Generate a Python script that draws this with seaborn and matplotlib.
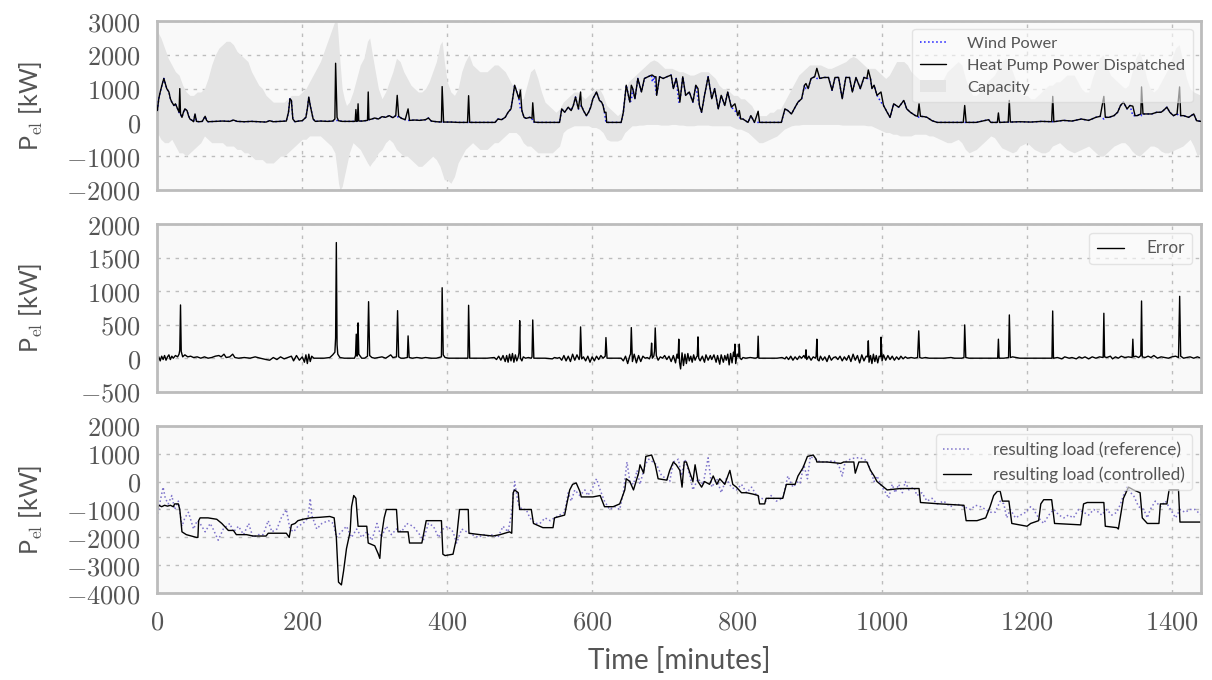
import matplotlib
matplotlib.use("Agg")
import matplotlib.pyplot as plt
import seaborn as sns
import pandas as pd
from matplotlib.ticker import FuncFormatter

# ---------------- data ----------------
t_top = [0, 2, 4, 7, 9, 11, 13, 16, 18, 20,
         23, 25, 27, 30, 31, 32, 34, 36, 38, 41,
         43, 45, 48, 50, 52, 54, 58, 62, 66, 68,
         70, 80, 90, 100, 105, 110, 120, 130, 140, 150,
         155, 160, 170, 178, 181, 183, 185, 187, 190, 195,
         200, 205, 207, 209, 211, 213, 215, 218, 225, 235,
         242, 245, 246, 248, 250, 255, 265, 273, 274, 275,
         276, 277, 278, 283, 290, 291, 292, 296, 300, 305,
         310, 315, 320, 325, 329, 331, 333, 337, 342, 346,
         348, 355, 362, 370, 374, 378, 385, 392, 393, 395,
         405, 415, 428, 429.5, 431, 440, 455, 466, 470, 475,
         480, 484, 488, 491, 493, 496, 499, 501, 503, 506,
         509, 514, 517, 518, 520, 525, 540, 555, 558, 562,
         567, 571, 574, 577, 581, 584, 585, 588, 592, 595,
         598, 601, 606, 610, 613, 615, 617, 619, 620, 630,
         640, 643, 647, 650, 652, 654, 656, 659, 663, 668,
         672, 677, 682, 683, 686, 688, 689, 693, 698, 703,
         709, 712, 716, 719.5, 721, 725, 729, 734, 739, 743,
         746, 748, 751, 755, 760, 765, 769, 774, 778, 783,
         787, 792, 797, 801, 803, 805, 808, 815, 819, 824,
         829, 831, 845, 861, 866, 870, 875, 880, 884, 889,
         893, 895, 898, 902, 907, 910, 914, 920, 926, 931,
         935, 940, 945, 950, 955, 959, 964, 970, 975, 979,
         981, 984, 986, 989, 993, 998.5, 1002, 1007, 1011, 1016,
         1023, 1030, 1034, 1039, 1046, 1049, 1051, 1053, 1058, 1062,
         1069, 1076, 1090, 1112, 1114, 1116, 1130, 1147, 1150, 1159,
         1160.5, 1162, 1174, 1175.5, 1177, 1190, 1205, 1220, 1234, 1235.5,
         1237, 1250, 1262, 1275, 1285, 1295, 1301, 1306, 1308, 1313,
         1320, 1325, 1329, 1333, 1338, 1342, 1346, 1349, 1352, 1357,
         1358, 1360, 1366, 1372, 1379, 1385, 1388, 1393, 1397, 1402,
         1407, 1410.5, 1412, 1416, 1423, 1430, 1434, 1440]

hp_kw = [350, 700, 900, 1150, 1300, 1150, 1000, 900, 700, 600,
         500, 550, 450, 300, 1000, 250, 150, 300, 400, 350,
         200, 100, 60, 20, 250, 30, 20, 30, 180, 60,
         20, 30, 40, 30, 70, 30, 20, 30, 20, 10,
         50, 20, 30, 40, 300, 700, 650, 100, 20, 40,
         50, 150, 400, 750, 500, 300, 100, 30, 40, 30,
         40, 100, 1750, 150, 50, 30, 30, 30, 380, 30,
         40, 550, 40, 40, 60, 900, 80, 100, 130, 100,
         170, 150, 200, 140, 200, 800, 180, 120, 80, 400,
         60, 70, 60, 80, 130, 40, 20, 10, 1060, 10,
         10, 0, 0, 790, 0, 0, 0, 0, 100, 80,
         150, 300, 400, 800, 1100, 900, 700, 950, 350, 150,
         120, 150, 120, 580, 10, 0, 0, 0, 400, 300,
         450, 350, 500, 750, 400, 900, 500, 350, 200, 300,
         450, 700, 900, 650, 600, 500, 300, 300, 0, 0,
         0, 300, 1100, 800, 600, 1100, 1000, 700, 1300, 900,
         1300, 1350, 1400, 1400, 1350, 1350, 800, 1350, 1300, 1350,
         1400, 1000, 1300, 900, 600, 1350, 800, 900, 600, 1100,
         1000, 500, 300, 800, 1350, 700, 1000, 400, 800, 500,
         900, 450, 550, 200, 350, 100, 100, 0, 200, 0,
         330, 0, 0, 0, 400, 350, 250, 450, 600, 700,
         1100, 1150, 1000, 1300, 1350, 1600, 1300, 1330, 1330, 950,
         1330, 1330, 700, 1330, 1330, 900, 1330, 1000, 1330, 1300,
         1550, 1300, 1000, 1100, 800, 900, 500, 300, 150, 550,
         450, 650, 400, 300, 200, 180, 550, 180, 170, 150,
         50, 0, 0, 0, 500, 0, 0, 80, 0, 0,
         280, 0, 10, 650, 10, 20, 10, 30, 20, 770,
         20, 60, 40, 100, 60, 150, 180, 770, 150, 150,
         200, 300, 500, 600, 400, 500, 480, 200, 200, 250,
         1050, 250, 250, 250, 300, 300, 350, 450, 300, 200,
         250, 1050, 200, 200, 150, 250, 50, 30]

wind_kw = [350, 700, 900, 1150, 1300, 1150, 1000, 900, 700, 600,
           500, 550, 450, 300, 250, 250, 150, 300, 400, 350,
           200, 100, 60, 20, 250, 30, 20, 30, 180, 60,
           20, 30, 40, 30, 70, 30, 20, 30, 20, 10,
           50, 20, 30, 40, 300, 700, 650, 100, 20, 40,
           50, 150, 400, 750, 500, 300, 100, 30, 40, 30,
           40, 60, 50, 60, 50, 30, 30, 30, 30, 30,
           40, 40, 40, 40, 60, 70, 80, 100, 130, 100,
           170, 150, 200, 140, 200, 150, 180, 120, 80, 60,
           60, 70, 60, 80, 130, 40, 20, 10, 10, 10,
           10, 0, 0, 0, 0, 0, 0, 0, 100, 80,
           150, 300, 400, 800, 1100, 900, 700, 400, 350, 150,
           120, 150, 120, 10, 10, 0, 0, 0, 400, 300,
           450, 350, 500, 750, 400, 430, 500, 350, 200, 300,
           450, 700, 900, 650, 600, 500, 300, 0, 0, 0,
           0, 300, 1100, 800, 600, 650, 1000, 700, 1300, 900,
           1300, 1350, 1400, 1200, 1350, 900, 800, 1350, 1300, 1350,
           1400, 1000, 1300, 600, 600, 1350, 800, 900, 600, 1100,
           700, 500, 300, 800, 1350, 700, 1000, 400, 800, 500,
           900, 450, 350, 200, 150, 100, 100, 0, 200, 0,
           0, 0, 0, 0, 400, 350, 250, 450, 600, 700,
           1100, 1000, 1000, 1300, 1350, 1300, 1300, 1330, 1330, 950,
           1330, 1330, 700, 1330, 1330, 900, 1330, 1000, 1330, 1300,
           1300, 1300, 1000, 1100, 800, 600, 500, 300, 150, 550,
           450, 650, 400, 300, 200, 180, 150, 180, 170, 150,
           50, 0, 0, 0, 0, 0, 0, 80, 0, 0,
           0, 0, 10, 10, 10, 20, 10, 30, 20, 20,
           20, 60, 40, 100, 60, 150, 180, 100, 150, 150,
           200, 300, 500, 600, 400, 500, 200, 200, 200, 250,
           200, 250, 250, 250, 300, 300, 350, 450, 300, 200,
           250, 180, 200, 200, 150, 250, 50, 30]

t_band = ([*range(0, 250, 5)] + [248, 250, 252, 255, 258, 261, 265, 270, 275, 280, 285, 290, 293, 296]
          + [*range(300, 395, 5)] + [393, 396] + [*range(400, 1445, 5)])
t_band = sorted(t_band)

cap_upper = [2700, 2500, 2200, 1900, 1700, 1500, 1400, 1100, 900, 800,
             800, 900, 900, 1000, 1300, 1700, 2000, 2200, 2300, 2400,
             2400, 2300, 2100, 2000, 1900, 1800, 1500, 1300, 1100, 1000,
             800, 700, 600, 600, 600, 600, 700, 800, 800, 800,
             900, 1000, 1200, 1400, 1600, 1800, 2100, 2400, 2700, 3000,
             3000, 2400, 1800, 1000, 700, 500, 600, 900, 1300, 1700, 1900, 2400, 2500, 2100,
             1600, 1000, 700, 900, 1200, 1500, 1900, 1800, 1500, 1300,
             1100, 1000, 900, 900, 1000, 1200, 1500, 1800, 2300,
             2400, 1800,
             1200, 900, 800, 1000, 1500, 1800, 2000, 1700, 1600, 1500,
             1500, 1500, 1600, 1700, 1700, 1600, 1500, 1300, 1100, 1000,
             700, 700, 1100, 1500, 1600, 1300, 900, 600, 500, 400,
             300, 400, 600, 700, 800, 900, 900, 800, 700, 800,
             900, 1000, 1000, 800, 500, 400, 300, 200, 300, 800,
             1200, 1300, 1400, 1500, 1600, 1700, 1800, 1850, 1800, 1700,
             1600, 1600, 1600, 1550, 1500, 1500, 1450, 1400, 1400, 1450,
             1500, 1500, 1500, 1400, 1300, 1100, 1000, 1000, 900, 800,
             800, 700, 700, 600, 500, 300, 200, 200, 200, 300,
             300, 400, 400, 600, 800, 1000, 1200, 1400, 1500, 1600,
             1700, 1700, 1700, 1700, 1650, 1600, 1600, 1650, 1700, 1750,
             1800, 1900, 1950, 1900, 1800, 1700, 1600, 1600, 1600, 1500,
             1400, 1300, 1400, 1600, 1800, 1800, 1800, 1700, 1500, 1400,
             1300, 1200, 1100, 1000, 1000, 1000, 1100, 1300, 1500, 1600,
             1700, 1800, 1700, 1300, 1000, 800, 800, 900, 1100, 1200,
             1300, 1400, 1600, 1800, 1900, 1800, 1500, 1200, 900, 800,
             800, 700, 700, 800, 900, 1000, 1100, 1100, 1200, 1200,
             1300, 1400, 1400, 1400, 1200, 1000, 900, 900, 1300, 1600,
             1900, 2000, 1700, 1400, 1300, 1200, 1100, 1000, 1100, 1500,
             1900, 2100, 1800, 1300, 1000, 900, 1000, 1200, 1400, 1600,
             1900, 2200, 2300, 1800, 1300, 1000, 900, 850, 800]

cap_lower = [-300, -500, -600, -600, -500, -700, -900, -900, -1000, -900,
             -800, -700, -600, -400, -500, -600, -600, -600, -600, -700,
             -700, -700, -800, -800, -900, -900, -1000, -1100, -1100, -1100,
             -1200, -1200, -1200, -1100, -1000, -1000, -900, -800, -700, -600,
             -500, -500, -400, -400, -400, -400, -500, -600, -700, -900,
             -1400, -1800, -2000, -1900, -1600, -1300, -900, -600, -700, -800, -1000, -1200, -1300, -1200,
             -1100, -900, -800, -600, -500, -600, -800, -900, -1000, -1000,
             -1100, -1200, -1300, -1300, -1200, -1100, -1000, -1100, -1300,
             -1500, -1700,
             -1700, -1800, -1600, -1200, -1000, -800, -700, -600, -700, -800,
             -800, -800, -700, -600, -600, -500, -400, -300, -300, -300,
             -400, -600, -700, -700, -800, -900, -900, -900, -900, -900,
             -800, -700, -300, -200, -150, -100, -100, -100, -100, -100,
             -150, -150, -200, -300, -500, -550, -550, -550, -500, -300,
             -200, -100, -100, -80, -80, -60, -60, -60, -60, -80,
             -80, -80, -60, -60, -80, -80, -100, -100, -100, -80,
             -80, -80, -80, -100, -100, -100, -100, -100, -100, -150,
             -200, -200, -250, -300, -400, -500, -600, -600, -550, -500,
             -450, -400, -300, -200, -150, -100, -80, -80, -60, -60,
             -60, -60, -60, -60, -60, -60, -60, -60, -60, -80,
             -80, -80, -80, -80, -80, -80, -100, -100, -150, -200,
             -250, -300, -300, -350, -350, -400, -400, -400, -400, -350,
             -350, -350, -350, -400, -400, -450, -500, -550, -600, -600,
             -550, -500, -600, -800, -900, -850, -800, -700, -600, -500,
             -400, -450, -600, -750, -800, -850, -900, -850, -700, -650,
             -600, -700, -800, -850, -900, -900, -850, -700, -650, -600,
             -700, -800, -850, -900, -850, -800, -750, -700, -800, -900,
             -1000, -1000, -900, -800, -700, -650, -600, -600, -700, -850,
             -950, -1000, -900, -800, -700, -700, -750, -850, -900, -900,
             -850, -800, -750, -700, -600, -500, -700, -1000, -900]

t_err = [0, 2, 4, 6, 8, 10, 12, 14, 16, 18,
         20, 22, 25, 28, 30, 31, 32, 33, 35, 38,
         42, 46, 50, 55, 60, 65, 70, 75, 80, 85,
         88, 92, 95, 100, 104, 107, 112, 120, 128, 135,
         142, 150, 155, 160, 165, 170, 175, 180, 185, 188,
         192, 196, 200, 203, 205, 207, 209, 211, 213, 216,
         222, 230, 238, 242, 245, 246, 247, 248, 249, 252,
         258, 265, 272, 273.5, 274.5, 275.5, 276.2, 277, 278, 282,
         286, 290, 291.5, 293, 296, 300, 305, 310, 315, 318,
         322, 325, 330, 331.5, 333, 336, 340, 345, 346, 347.5,
         352, 358, 365, 370, 378, 385, 392, 393, 394.5, 397,
         402, 410, 420, 428.5, 429.5, 431, 440, 455, 465, 468,
         471, 474, 477, 480, 482, 484, 486, 488, 490, 492,
         494, 496, 498, 499, 500, 501, 503, 505, 508, 512,
         516, 517, 518, 519.5, 525, 535, 545, 548, 552, 555,
         558, 561, 564, 567, 570, 573, 576, 579, 582, 583,
         584, 585.5, 588, 591, 594, 597, 600, 603, 606, 609,
         612, 615, 618, 619, 620.5, 625, 635, 640, 643, 646,
         649, 652, 653, 654, 655.5, 658, 661, 664, 667, 670,
         673, 676, 679, 681, 682, 683, 685, 686, 687, 688.5,
         691, 694, 697, 700, 703, 706, 709, 712, 715, 717,
         718.5, 719.5, 720.5, 722, 724, 726, 728, 730, 732, 734,
         736, 738, 740, 742, 744, 745, 746, 747, 749, 752,
         755, 757, 760, 763, 765, 768, 771, 773, 776, 778,
         781, 783, 785, 787, 789, 791, 793, 795, 796, 797,
         798, 800, 802, 803, 804, 806, 808, 812, 818, 825,
         828, 829, 830, 835, 845, 855, 862, 866, 868, 871,
         874, 877, 880, 883, 886, 889, 892, 894, 895, 896,
         899, 902, 905, 908, 909, 910, 911, 913, 915, 918,
         921, 924, 927, 930, 933, 936, 939, 942, 945, 948,
         951, 954, 957, 960, 963, 966, 969, 972, 975, 978,
         980, 981, 982, 984, 986, 988, 990, 992, 994, 996,
         998, 998.6, 1000, 1002, 1005, 1008, 1011, 1014, 1017, 1020,
         1023, 1026, 1029, 1032, 1035, 1040, 1045, 1049, 1050.6, 1052,
         1055, 1060, 1065, 1075, 1085, 1095, 1100, 1110, 1113, 1114,
         1115.5, 1120, 1130, 1140, 1150, 1159.5, 1160.5, 1161.5, 1168, 1174.5,
         1175.6, 1177, 1180, 1185, 1190, 1200, 1210, 1220, 1230, 1234.4,
         1235.4, 1236.5, 1242, 1248, 1252, 1258, 1262, 1268, 1272, 1276,
         1280, 1285, 1290, 1295, 1300, 1305, 1306, 1307, 1310, 1315,
         1318, 1322, 1326, 1330, 1335, 1340, 1345, 1346, 1347, 1350,
         1354, 1357, 1358, 1359, 1363, 1367, 1371, 1375, 1380, 1385,
         1390, 1395, 1400, 1405, 1409, 1410.6, 1412, 1416, 1420, 1425,
         1430, 1435, 1440]

err_kw = [-30, 20, -40, 30, -20, 40, -30, 20, 50, -20,
          30, 0, 40, 20, 60, 120, 795, 100, 20, 50,
          20, 30, 10, 20, 0, 20, 0, 10, 30, 40,
          20, 60, 10, 20, 60, 10, 0, 10, 0, 20,
          0, -20, -30, 10, -20, 20, -10, 10, 30, -40,
          40, -30, 20, -60, 50, -80, 60, -50, 30, 0,
          0, 0, 10, 50, 90, 300, 1727, 200, 60, 10,
          0, 0, 0, 40, 359, 30, 50, 527, 60, 0,
          0, 30, 844, 40, 10, 0, 10, 20, 0, 20,
          50, 10, 20, 710, 20, 0, 0, 10, 333, 10,
          0, 10, 0, 10, 0, 0, 20, 1052, 50, 10,
          0, 0, 0, 0, 790, 0, 0, 0, 10, -20,
          30, -30, 40, -50, 40, -60, 60, -40, 70, -60,
          50, -40, 20, 80, 560, 0, -40, 20, 0, 10,
          0, 20, 571, 0, 0, 0, -10, 10, 0, 10,
          -30, 40, -40, 30, -50, 60, -30, 50, -20, 30,
          467, -10, 20, -40, 30, -60, 20, -40, 30, -20,
          40, 0, 30, 308, 0, 0, 0, 0, -40, 30,
          -80, 40, 60, 457, -50, 60, -70, 40, -50, 30,
          0, 10, -10, 50, 225, 0, 30, 100, 452, 40,
          -30, 20, 0, 40, -20, 30, -50, 40, -70, 60,
          0, 284, -60, -160, 80, -110, 60, -80, 70, -40,
          30, -60, 50, -30, 20, 30, 318, 0, -40, 30,
          -60, 50, -30, 40, -20, 50, -60, 40, -90, 50,
          -60, 40, -30, 60, -100, 70, -70, 90, 30, 210,
          -80, 60, 20, 210, 0, -20, 10, 0, 10, 0,
          10, 329, 0, 0, 0, 0, 10, -10, 20, -20,
          30, -30, 20, -20, 30, 0, 40, 0, 125, -20,
          30, -30, 20, 0, 30, 284, -20, -40, 30, -30,
          20, -50, 40, -30, 10, 20, -20, 30, -40, 20,
          -30, 40, -50, 60, -30, 40, -70, 50, -40, 30,
          20, 259, -60, 40, -80, 60, -50, 40, -70, 30,
          20, 314, -40, 50, -30, 40, -20, 30, -30, 20,
          -20, 30, -10, 20, 0, 10, 0, 10, 408, 10,
          0, 10, 0, 0, 0, 10, 0, 0, 10, 497,
          10, 0, 0, 0, 0, 0, 284, 0, 0, 10,
          646, 10, 20, 10, 0, 0, 0, 0, 0, 0,
          705, 0, 10, -10, 20, 0, 10, -10, 20, 0,
          20, -10, 20, 0, 20, 10, 671, 20, 10, 30,
          -10, 20, 0, 30, 10, 20, 10, 284, 20, 30,
          10, 40, 854, 20, 10, 30, 10, 40, 0, 20,
          10, 0, 20, 30, 10, 924, 30, 0, 10, 20,
          0, 20, 0]

t_ctrl = [0, 2, 6, 10, 14, 18, 22, 24, 29, 31,
          34, 40, 47, 54, 56, 57, 59, 70, 82, 89,
          98, 105, 109, 123, 132, 146, 150, 153, 165, 178,
          182, 185, 190, 194, 201, 211, 224, 238, 244, 247,
          250, 254, 257, 261, 266, 268, 271, 274, 277, 289,
          291, 300, 305, 307, 309, 313, 316, 330, 332, 346,
          348, 365, 368, 371, 392, 394, 397, 408, 413, 417,
          429, 430, 445, 463, 473, 486, 489, 491, 493, 498,
          500, 516, 519, 532, 546, 548, 562, 565, 569, 573,
          578, 583, 585, 601, 611, 614, 617, 629, 638, 645,
          647, 652, 657, 664, 666, 671, 674, 682, 687, 691,
          703, 707, 712, 716, 721, 724, 727, 730, 735, 739,
          742, 746, 751, 755, 762, 767, 772, 776, 783, 790,
          794, 799, 806, 813, 822, 829, 831, 838, 840, 850,
          863, 868, 880, 884, 891, 897, 905, 909, 910, 924,
          943, 947, 961, 963, 968, 979, 984, 989, 993, 1000,
          1007, 1025, 1051, 1053, 1080, 1113, 1116, 1131, 1143, 1149,
          1154, 1159, 1163, 1166, 1175, 1179, 1200, 1205, 1216, 1219,
          1223, 1234, 1238, 1274, 1278, 1283, 1306, 1308, 1324, 1326,
          1333, 1340, 1347, 1356, 1359, 1366, 1382, 1384, 1393, 1396,
          1409, 1411, 1440]

load_ctrl = [-1000, -850, -900, -850, -880, -850, -900, -800, -800, -1000,
             -1800, -1900, -1950, -2000, -2000, -1400, -1300, -1300, -1350, -1500,
             -1750, -1750, -1900, -1900, -1950, -1950, -1950, -1850, -1850, -1850,
             -2000, -1550, -1500, -1400, -1350, -1300, -1280, -1250, -1300, -2000,
             -3600, -3700, -3200, -2400, -1800, -900, -500, -600, -1600, -1600,
             -2200, -2300, -2600, -2750, -2000, -1300, -1000, -1000, -1800, -1800,
             -2200, -2200, -1800, -1400, -1400, -2600, -2650, -2600, -2000, -1000,
             -1000, -1850, -1900, -1950, -1900, -1800, -1850, -400, -300, -400,
             -1000, -1000, -1500, -1650, -1650, -1300, -1200, -800, -300, -100,
             -50, -350, -550, -550, -500, -700, -900, -900, -800, -300,
             100, 0, -300, 300, 600, 300, 900, 950, 600, 100,
             50, 400, 700, 600, 400, -200, 700, 700, 300, 0,
             600, 0, -200, 0, -100, 200, -100, 100, -100, 400,
             -100, -200, -400, -400, -450, -500, -800, -800, -600, -600,
             -600, -100, -100, 200, 500, 900, 950, 800, 700, 700,
             650, 700, 700, 300, 700, 700, 400, 200, 0, -150,
             -300, -250, -250, -750, -800, -850, -1400, -1400, -1300, -900,
             -500, -350, -350, -700, -700, -1500, -1600, -1500, -1400, -800,
             -650, -650, -1500, -1550, -800, -750, -750, -1600, -1650, -1700,
             -600, -200, -300, -400, -1300, -1500, -1500, -800, -800, -300,
             -300, -1450, -1450]

t_ref = [0, 4, 8, 11, 15, 20, 24, 29, 34, 38,
         43, 50, 55, 59, 66, 73, 77, 84, 91, 100,
         105, 112, 119, 126, 132, 139, 146, 153, 158, 165,
         171, 178, 183, 188, 194, 201, 208, 211, 213, 220,
         227, 236, 243, 247, 254, 261, 268, 275, 282, 289,
         296, 303, 309, 316, 323, 330, 337, 344, 353, 362,
         367, 374, 381, 388, 394, 401, 408, 413, 420, 427,
         434, 443, 450, 457, 463, 470, 477, 484, 489, 493,
         498, 503, 509, 514, 521, 528, 535, 542, 548, 555,
         562, 567, 571, 576, 583, 590, 594, 601, 606, 611,
         617, 624, 631, 638, 643, 648, 652, 657, 662, 666,
         673, 678, 684, 689, 696, 703, 707, 712, 719, 723,
         728, 735, 739, 746, 753, 760, 765, 772, 778, 785,
         792, 799, 806, 813, 820, 827, 834, 840, 847, 854,
         863, 870, 877, 884, 887, 892, 897, 901, 908, 915,
         924, 933, 940, 945, 949, 956, 963, 970, 979, 984,
         989, 993, 1000, 1005, 1009, 1014, 1018, 1023, 1028, 1032,
         1037, 1044, 1048, 1055, 1062, 1069, 1076, 1085, 1094, 1103,
         1113, 1122, 1129, 1136, 1143, 1149, 1156, 1163, 1168, 1172,
         1177, 1184, 1191, 1198, 1205, 1209, 1216, 1223, 1230, 1237,
         1244, 1251, 1257, 1264, 1271, 1278, 1285, 1292, 1299, 1303,
         1310, 1317, 1324, 1329, 1333, 1338, 1343, 1347, 1354, 1361,
         1366, 1370, 1377, 1384, 1391, 1398, 1405, 1411, 1418, 1425,
         1432, 1440]

load_ref = [-1300, -700, -200, -600, -800, -500, -1000, -700, -1600, -1300,
            -1100, -1700, -1400, -1500, -1800, -1500, -1700, -2100, -1700, -1500,
            -1800, -1600, -1900, -1500, -2000, -1900, -1900, -1400, -1800, -1700,
            -1300, -1000, -1700, -1800, -1600, -1500, -1300, -600, -1200, -1700,
            -1500, -1400, -1500, -2000, -1800, -1600, -2000, -1700, -2000, -1800,
            -2100, -1500, -2000, -1600, -1900, -1700, -1800, -1500, -1600, -1900,
            -2100, -1500, -1600, -2000, -1700, -1600, -1800, -2200, -1700, -1800,
            -1900, -2000, -1900, -1950, -1900, -2000, -1600, -1800, -1100, 0,
            -800, -1000, -1000, -1300, -1500, -1500, -1300, -1400, -1300, -1200,
            -1100, -400, -700, -300, -500, -300, -500, -200, 100, -300,
            -700, -1000, -900, -1000, -400, 700, 0, -100, 400, -100,
            600, 800, 700, 600, 200, 100, 0, 700, 800, 200,
            800, 200, -300, 100, -100, 850, -200, 100, -400, 100,
            -200, -300, -100, -400, -200, -500, -600, -700, -500, -700,
            -600, 200, -200, 0, -50, 600, 100, 900, 800, 700,
            700, 750, 600, 200, 700, 800, 850, 850, 750, 400,
            0, 200, -200, -400, -600, -100, -400, -100, -400, 0,
            -300, -200, -500, -400, -700, -600, -800, -700, -900, -800,
            -900, -1000, -850, -900, -1000, -1100, -1100, -700, -800, -1300,
            -1000, -1300, -1200, -1100, -900, -1000, -1300, -1500, -1200, -1000,
            -1200, -1300, -1200, -1300, -1000, -1100, -1200, -1000, -1100, -1200,
            -1000, -1200, -1100, -800, -500, -200, -400, -500, -900, -1000,
            -1300, -1000, -700, -900, -700, -1000, -1300, -1000, -1100, -1000,
            -1000, -1200]

x_ticks = [0, 200, 400, 600, 800, 1000, 1200, 1400]
yticks_top = [-2000, -1000, 0, 1000, 2000, 3000]
yticks_mid = [-500, 0, 500, 1000, 1500, 2000]
yticks_bot = [-4000, -3000, -2000, -1000, 0, 1000, 2000]

# ---------------- style ----------------
sns.set_theme(style="whitegrid")
plt.rcParams['font.family'] = ['Lato', 'DejaVu Sans']
plt.rcParams['mathtext.fontset'] = 'cm'

TXT = '#555555'

fig = plt.figure(figsize=(12.12, 6.8), dpi=100)
L, W = 0.1298, 0.8611
ax1 = fig.add_axes([L, 0.7206, W, 0.2485])
ax2 = fig.add_axes([L, 0.4240, W, 0.2462])
ax3 = fig.add_axes([L, 0.1275, W, 0.2465])

fmt = FuncFormatter(lambda v, p: f'${v:.0f}$')


def style(ax, ylim, yticks, show_x):
    ax.set_facecolor('#f9f9f9')
    ax.set_xlim(0, 1440)
    ax.set_ylim(*ylim)
    ax.set_xticks(x_ticks)
    ax.set_yticks(yticks)
    ax.grid(True, color='#bdbdbd', linestyle=(0, (2.5, 4)), linewidth=1.0)
    for s in ax.spines.values():
        s.set_visible(True)
        s.set_color('#bcbcbc')
        s.set_linewidth(2.0)
    ax.tick_params(length=0, pad=12, labelsize=19, labelcolor=TXT)
    ax.yaxis.set_major_formatter(fmt)
    ax.xaxis.set_major_formatter(fmt)
    if not show_x:
        ax.tick_params(labelbottom=False)
    ax.set_ylabel(r'P$_{\mathrm{el}}$ [kW]', fontsize=18, color=TXT)
    ax.yaxis.set_label_coords(-0.108, 0.5)
    ax.set_xlabel('')


def legend(ax, fs, order=None):
    h, l = ax.get_legend_handles_labels()
    if order is not None:
        h = [h[i] for i in order]
        l = [l[i] for i in order]
    leg = ax.legend(h, l, loc='upper right', fontsize=fs, frameon=True, fancybox=True,
                    framealpha=0.6, facecolor='#fbfbfb', edgecolor='#d5d5d5',
                    handlelength=1.6, handletextpad=1.3, labelspacing=0.45,
                    borderpad=0.45)
    for t in leg.get_texts():
        t.set_color(TXT)
    leg.get_frame().set_linewidth(1.0)


# panel 1
df_top = pd.DataFrame({'t': t_top, 'wind': wind_kw, 'hp': hp_kw})
ax1.fill_between(t_band, cap_lower, cap_upper, color='#e4e4e4', lw=0, label='Capacity', zorder=1)
sns.lineplot(data=df_top, x='t', y='wind', ax=ax1, color='#1a1aff', linestyle=':', lw=1.1,
             estimator=None, sort=False, label='Wind Power', zorder=3)
sns.lineplot(data=df_top, x='t', y='hp', ax=ax1, color='black', lw=1.0,
             estimator=None, sort=False, label='Heat Pump Power Dispatched', zorder=4)
style(ax1, (-2000, 3000), yticks_top, False)
h1, l1 = ax1.get_legend_handles_labels()
legend(ax1, 11.8, order=[l1.index('Wind Power'), l1.index('Heat Pump Power Dispatched'),
                         l1.index('Capacity')])

# panel 2
df_err = pd.DataFrame({'t': t_err, 'err': err_kw})
sns.lineplot(data=df_err, x='t', y='err', ax=ax2, color='black', lw=1.0,
             estimator=None, sort=False, label='Error')
style(ax2, (-500, 2000), yticks_mid, False)
legend(ax2, 12.3)

# panel 3
df_ref = pd.DataFrame({'t': t_ref, 'load': load_ref})
df_ctrl = pd.DataFrame({'t': t_ctrl, 'load': load_ctrl})
sns.lineplot(data=df_ref, x='t', y='load', ax=ax3, color='#6f63c4', linestyle=':', lw=1.1,
             estimator=None, sort=False, label='resulting load (reference)', alpha=0.9)
sns.lineplot(data=df_ctrl, x='t', y='load', ax=ax3, color='black', lw=1.0,
             estimator=None, sort=False, label='resulting load (controlled)')
style(ax3, (-4000, 2000), yticks_bot, True)
ax3.set_xlabel('Time [minutes]', fontsize=20, color=TXT, labelpad=9)
legend(ax3, 12.3)

fig.savefig('out.png', dpi=100)
